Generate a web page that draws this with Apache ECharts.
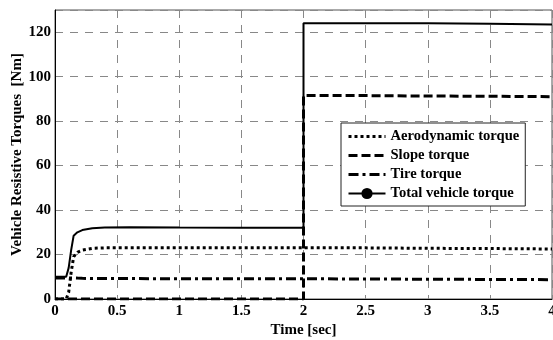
<!DOCTYPE html>
<html>
<head>
<meta charset="utf-8">
<script src="https://cdn.jsdelivr.net/npm/echarts@6/dist/echarts.min.js"></script>
<style>
  html, body { margin: 0; padding: 0; background: #fff; }
  #chart { width: 553px; height: 340px; }
</style>
</head>
<body>
<div id="chart"></div>
<script>
// time samples [sec]; 2 appears twice for the step
const timeSec = [0, 0.05, 0.09, 0.11, 0.13, 0.15, 0.18, 0.22, 0.3, 0.4, 0.6, 1, 1.5, 2, 2, 2.5, 3, 3.5, 4]
const aeroTorque = [0, 0, 0, 3, 12, 19, 21, 22, 22.8, 23, 23, 23, 23, 23, 23, 23, 22.8, 22.7, 22.5]
const slopeTorque = [0, 0, 0, 0, 0, 0, 0, 0, 0, 0, 0, 0, 0, 0, 91.5, 91.5, 91.3, 91.2, 91]
const tireTorque = [9.5, 9.5, 9.5, 9.5, 9.5, 9.5, 9.4, 9.3, 9.2, 9.2, 9.2, 9.1, 9.1, 9.1, 9.1, 9, 8.9, 8.8, 8.7]
const totalTorque = [10, 10, 10, 14, 22, 28.5, 30, 31, 31.8, 32.2, 32.3, 32.2, 32.1, 32, 124, 124, 124, 123.8, 123.5]
const seriesNames = ['Aerodynamic torque', 'Slope torque', 'Tire torque', 'Total vehicle torque']

const font = 'Liberation Serif, Times New Roman, serif'
const chart = echarts.init(document.getElementById('chart'))

const pairs = (vals) => vals.map((v, i) => [timeSec[i], v])
const noMarker = { color: 'transparent', borderWidth: 0 }

const option = {
  animation: false,
  grid: {
    left: 55, right: 1, top: 10, bottom: 41,
    outerBoundsMode: 'none', containLabel: false,
    show: true, borderColor: '#555', borderWidth: 1
  },
  legend: {
    orient: 'vertical',
    left: 341, top: 123,
    padding: [6, 6, 5, 6],
    itemGap: 4,
    itemWidth: 37, itemHeight: 14,
    backgroundColor: '#fff',
    borderColor: '#222', borderWidth: 1,
    textStyle: { fontFamily: font, fontWeight: 'bold', fontSize: 14.6, color: '#000' },
    data: [
      { name: seriesNames[0], itemStyle: noMarker, lineStyle: { width: 3 } },
      { name: seriesNames[1], itemStyle: noMarker, lineStyle: { width: 3 } },
      { name: seriesNames[2], itemStyle: noMarker, lineStyle: { width: 3 } },
      { name: seriesNames[3] }
    ]
  },
  xAxis: {
    type: 'value', min: 0, max: 4, interval: 0.5,
    name: 'Time [sec]', nameLocation: 'middle', nameGap: 24, nameMoveOverlap: false,
    nameTextStyle: { fontFamily: font, fontWeight: 'bold', fontSize: 15, color: '#000' },
    axisLine: { lineStyle: { color: '#000', width: 1 } },
    axisTick: { show: false },
    axisLabel: { fontFamily: font, fontWeight: 'bold', fontSize: 15, color: '#000', margin: 5 },
    splitLine: { lineStyle: { color: '#888', type: [8, 7], width: 1 } }
  },
  yAxis: {
    type: 'value', min: 0, max: 130, interval: 20,
    name: 'Vehicle Resistive Torques  [Nm]', nameLocation: 'middle', nameGap: 30, nameMoveOverlap: false,
    nameTextStyle: { fontFamily: font, fontWeight: 'bold', fontSize: 15, color: '#000' },
    axisLine: { show: true, lineStyle: { color: '#000', width: 1 } },
    axisTick: { show: false },
    axisLabel: {
      fontFamily: font, fontWeight: 'bold', fontSize: 15, color: '#000', margin: 4,
      formatter: (v) => (v % 20 === 0 ? String(v) : '')
    },
    splitLine: { lineStyle: { color: '#888', type: [8, 7], width: 1 } }
  },
  series: [
    {
      name: seriesNames[0], type: 'line', data: pairs(aeroTorque),
      showSymbol: false, symbol: 'none',
      lineStyle: { color: '#000', width: 3, type: [3, 3] }
    },
    {
      name: seriesNames[1], type: 'line', data: pairs(slopeTorque),
      showSymbol: false, symbol: 'none',
      lineStyle: { color: '#000', width: 3, type: [9, 4] }
    },
    {
      name: seriesNames[2], type: 'line', data: pairs(tireTorque),
      showSymbol: false, symbol: 'none',
      lineStyle: { color: '#000', width: 3, type: [10, 4, 3, 4] }
    },
    {
      name: seriesNames[3], type: 'line', data: pairs(totalTorque),
      showSymbol: false, symbol: 'circle', symbolSize: 4,
      itemStyle: { color: '#000' },
      lineStyle: { color: '#000', width: 2 }
    }
  ]
}

chart.setOption(option)
</script>
</body>
</html>
